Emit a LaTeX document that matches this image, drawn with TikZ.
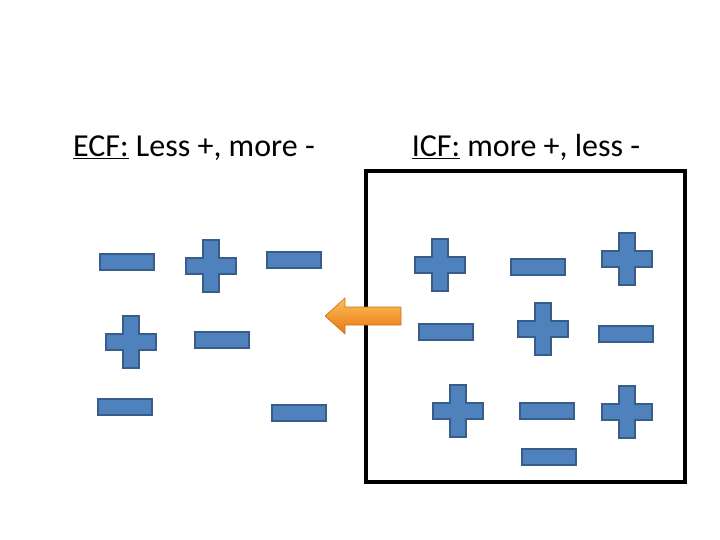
\documentclass[tikz,border=0pt]{standalone}
\usepackage{fontspec}
\setmainfont{Carlito}
\begin{document}
\begin{tikzpicture}[x=1pt,y=-1pt,
  ion/.style={fill={rgb,255:red,79;green,129;blue,189},draw={rgb,255:red,56;green,93;blue,138},line width=2pt},
  lbl/.style={font=\fontsize{32}{38}\selectfont}]
\useasboundingbox (0,0) rectangle (720,540);
\newcommand\mn[2]{\draw[ion] (#1-27,#2-8) rectangle (#1+27,#2+8);}
\newcommand\pl[2]{\draw[ion] (#1-8,#2-26) -- (#1+8,#2-26) -- (#1+8,#2-8) -- (#1+25,#2-8) -- (#1+25,#2+8) -- (#1+8,#2+8) -- (#1+8,#2+26) -- (#1-8,#2+26) -- (#1-8,#2+8) -- (#1-25,#2+8) -- (#1-25,#2-8) -- (#1-8,#2-8) -- cycle;}
\node[lbl] (ecf) at (194,148) {$\underline{\hbox{ECF:}}$ Less +, more -};
\node[lbl] (icf) at (526,147) {$\underline{\hbox{ICF:}}$ more +, less -};
\draw[line width=3.5pt] (366,171) rectangle (685,482);
\mn{127}{262}\pl{211}{266}\mn{294}{260}\pl{131}{342}\mn{222}{340}\mn{125}{407}\mn{299}{413}
\pl{440}{265}\mn{538}{267}\pl{627}{259}\mn{446}{332}\pl{543}{329}\mn{626}{334}
\pl{458}{411}\mn{547}{411}\pl{627}{412}\mn{549}{457}
\shade[top color={rgb,255:red,255;green,190;blue,90},bottom color={rgb,255:red,230;green,120;blue,20},draw={rgb,255:red,210;green,110;blue,20},line width=0.6pt]
 (401,307) -- (345,307) -- (345,298) -- (325,316) -- (345,334) -- (345,325) -- (401,325) -- cycle;
\end{tikzpicture}
\end{document}
